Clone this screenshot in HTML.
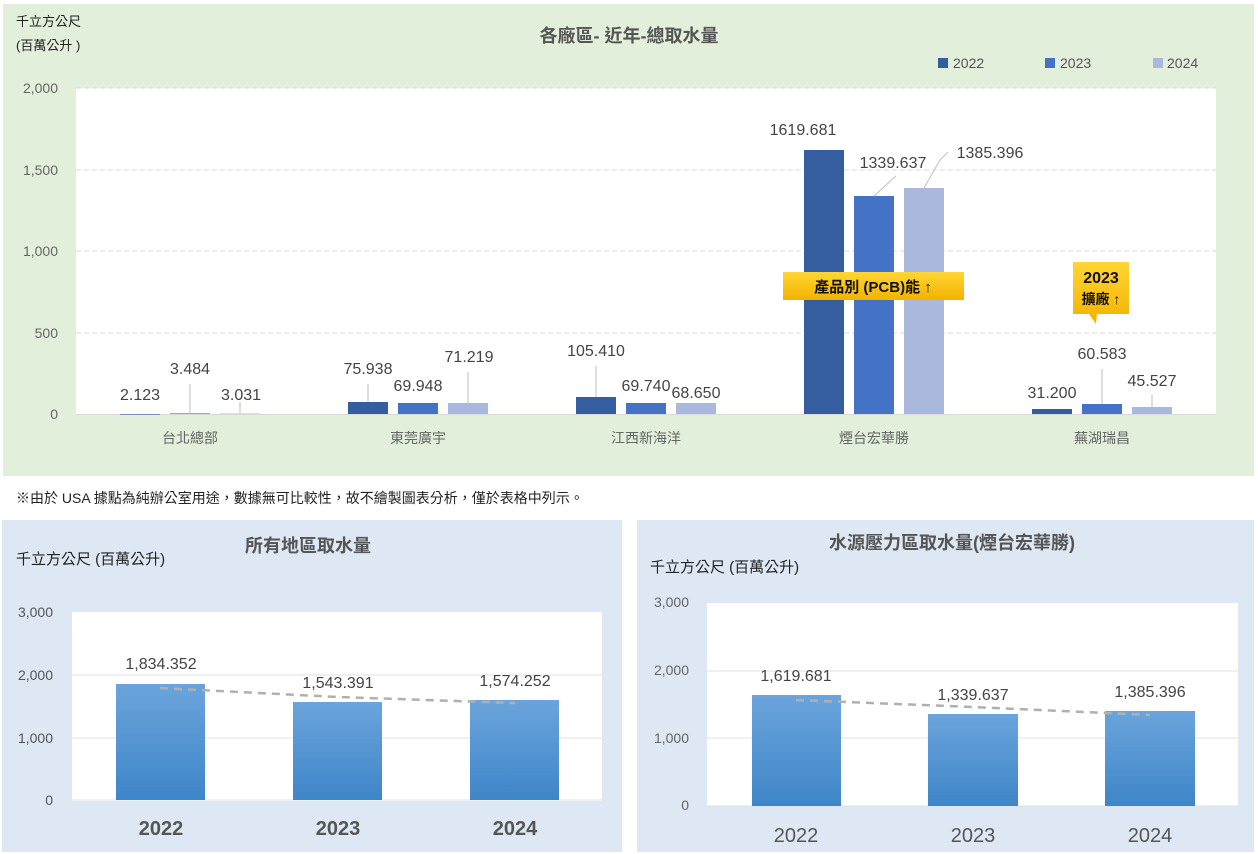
<!DOCTYPE html>
<html><head><meta charset="utf-8">
<style>
body{margin:0;width:1258px;height:854px;background:#fff;overflow:hidden;font-family:"Liberation Sans","Noto Sans CJK TC",sans-serif;}
svg{position:absolute;left:0;top:0}
</style></head><body>
<svg width="1258" height="854" viewBox="0 0 1258 854" font-family="Liberation Sans, Noto Sans CJK TC, sans-serif">
<defs>
<linearGradient id="g" x1="0" y1="0" x2="0" y2="1"><stop offset="0" stop-color="#6ba4dc"/><stop offset="1" stop-color="#3e86c8"/></linearGradient>
<linearGradient id="y" x1="0" y1="0" x2="0" y2="1"><stop offset="0" stop-color="#ffd633"/><stop offset="1" stop-color="#f2b200"/></linearGradient>
</defs>
<!-- top panel -->
<rect x="3" y="4" width="1251" height="472" fill="#e2efda"/>
<rect x="76" y="88" width="1140" height="326" fill="#fff"/>
<g stroke="#d9d9d9" stroke-dasharray="5,3">
<line x1="76" y1="88" x2="1216" y2="88"/><line x1="76" y1="170" x2="1216" y2="170"/><line x1="76" y1="251" x2="1216" y2="251"/><line x1="76" y1="333" x2="1216" y2="333"/>
</g>
<line x1="76" y1="414.5" x2="1216" y2="414.5" stroke="#d9d9d9"/>
<text x="16" y="26" font-size="13" fill="#222">千立方公尺</text>
<text x="16" y="50" font-size="13" fill="#222">(百萬公升 )</text>
<text x="629" y="42" font-size="18" fill="#555" text-anchor="middle" font-weight="bold">各廠區- 近年-總取水量</text>
<g font-size="14" fill="#555">
<rect x="938" y="58" width="10" height="10" fill="#355ea0"/><text x="953" y="68">2022</text>
<rect x="1045" y="58" width="10" height="10" fill="#4472c4"/><text x="1060" y="68">2023</text>
<rect x="1153" y="58" width="10" height="10" fill="#a9b8dc"/><text x="1167" y="68">2024</text>
</g>
<g font-size="14" fill="#666" text-anchor="end">
<text x="58" y="93">2,000</text><text x="58" y="175">1,500</text><text x="58" y="256">1,000</text><text x="58" y="338">500</text><text x="58" y="419">0</text>
</g>
<g>
<rect x="120" y="414" width="40" height="0.6" fill="#355ea0"/><rect x="170" y="413.4" width="40" height="0.6" fill="#4472c4"/><rect x="220" y="413.5" width="40" height="0.5" fill="#a9b8dc"/>
<rect x="348" y="402" width="40" height="12" fill="#355ea0"/><rect x="398" y="403" width="40" height="11" fill="#4472c4"/><rect x="448" y="403" width="40" height="11" fill="#a9b8dc"/>
<rect x="576" y="397" width="40" height="17" fill="#355ea0"/><rect x="626" y="403" width="40" height="11" fill="#4472c4"/><rect x="676" y="403" width="40" height="11" fill="#a9b8dc"/>
<rect x="804" y="150" width="40" height="264" fill="#355ea0"/><rect x="854" y="196" width="40" height="218" fill="#4472c4"/><rect x="904" y="188" width="40" height="226" fill="#a9b8dc"/>
<rect x="1032" y="409" width="40" height="5" fill="#355ea0"/><rect x="1082" y="404" width="40" height="10" fill="#4472c4"/><rect x="1132" y="407" width="40" height="7" fill="#a9b8dc"/>
</g>
<g stroke="#bfbfbf">
<line x1="190" y1="384" x2="190" y2="413"/><line x1="240" y1="402" x2="240" y2="413"/>
<line x1="368" y1="384" x2="368" y2="402"/><line x1="468" y1="372" x2="468" y2="403"/>
<line x1="596" y1="366" x2="596" y2="397"/>
<line x1="874" y1="196" x2="896" y2="176"/><line x1="924" y1="188" x2="940" y2="160"/><line x1="940" y1="160" x2="948" y2="152"/>
<line x1="1102" y1="369" x2="1102" y2="404"/><line x1="1152" y1="395" x2="1152" y2="407"/>
</g>
<g font-size="16" fill="#444" text-anchor="middle">
<text x="140" y="400">2.123</text><text x="190" y="374">3.484</text><text x="241" y="400">3.031</text>
<text x="368" y="374">75.938</text><text x="418" y="391">69.948</text><text x="469" y="362">71.219</text>
<text x="596" y="356">105.410</text><text x="646" y="391">69.740</text><text x="696" y="398">68.650</text>
<text x="803" y="135">1619.681</text><text x="893" y="168">1339.637</text><text x="990" y="158">1385.396</text>
<text x="1052" y="398">31.200</text><text x="1102" y="359">60.583</text><text x="1152" y="386">45.527</text>
</g>
<rect x="783" y="272" width="181" height="28" fill="url(#y)"/>
<text x="873" y="292" font-size="15" font-weight="bold" fill="#111" text-anchor="middle">產品別 (PCB)能 ↑</text>
<path d="M1073 262 H1129 V314 H1097 L1096 324 L1089 314 H1073 Z" fill="url(#y)"/>
<text x="1101" y="283" font-size="16" font-weight="bold" fill="#111" text-anchor="middle">2023</text>
<text x="1101" y="304" font-size="14" font-weight="bold" fill="#111" text-anchor="middle">擴廠 ↑</text>
<g font-size="14" fill="#666" text-anchor="middle">
<text x="190" y="443">台北總部</text><text x="418" y="443">東莞廣宇</text><text x="646" y="443">江西新海洋</text><text x="874" y="443">煙台宏華勝</text><text x="1102" y="443">蕪湖瑞昌</text>
</g>
<text x="16" y="503" font-size="14" fill="#222">※由於 USA 據點為純辦公室用途，數據無可比較性，故不繪製圖表分析，僅於表格中列示。</text>
<!-- bottom left -->
<rect x="2" y="520" width="620" height="332" fill="#dde8f4"/>
<rect x="72" y="612" width="530" height="189" fill="#fff"/>
<g stroke="#e0e0e0"><line x1="72" y1="675" x2="602" y2="675"/><line x1="72" y1="738" x2="602" y2="738"/><line x1="72" y1="800" x2="602" y2="800"/></g>
<text x="16" y="564" font-size="15" fill="#222">千立方公尺 (百萬公升)</text>
<text x="308" y="552" font-size="18" fill="#555" text-anchor="middle" font-weight="bold">所有地區取水量</text>
<g font-size="14" fill="#555" text-anchor="end"><text x="53" y="617">3,000</text><text x="53" y="680">2,000</text><text x="53" y="743">1,000</text><text x="53" y="805">0</text></g>
<rect x="116" y="684" width="89" height="116" fill="url(#g)"/>
<rect x="293" y="702" width="89" height="98" fill="url(#g)"/>
<rect x="470" y="700" width="89" height="100" fill="url(#g)"/>
<polyline points="160,688 338,697 515,703" fill="none" stroke="#b0b0b0" stroke-width="2.5" stroke-dasharray="8,6"/>
<g font-size="16" fill="#444" text-anchor="middle"><text x="161" y="669">1,834.352</text><text x="338" y="688">1,543.391</text><text x="515" y="686">1,574.252</text></g>
<g font-size="20" fill="#555" text-anchor="middle" font-weight="bold"><text x="161" y="835">2022</text><text x="338" y="835">2023</text><text x="515" y="835">2024</text></g>
<!-- bottom right -->
<rect x="637" y="520" width="617" height="332" fill="#dde8f4"/>
<rect x="707" y="603" width="531" height="203" fill="#fff"/>
<g stroke="#e0e0e0"><line x1="707" y1="671" x2="1238" y2="671"/><line x1="707" y1="738" x2="1238" y2="738"/><line x1="707" y1="806" x2="1238" y2="806"/></g>
<text x="952" y="549" font-size="18" fill="#555" text-anchor="middle" font-weight="bold">水源壓力區取水量(煙台宏華勝)</text>
<text x="650" y="572" font-size="15" fill="#222">千立方公尺 (百萬公升)</text>
<g font-size="14" fill="#666" text-anchor="end"><text x="689" y="607">3,000</text><text x="689" y="675">2,000</text><text x="689" y="743">1,000</text><text x="689" y="810">0</text></g>
<rect x="752" y="695" width="89" height="111" fill="url(#g)"/>
<rect x="928" y="714" width="90" height="92" fill="url(#g)"/>
<rect x="1105" y="711" width="90" height="95" fill="url(#g)"/>
<polyline points="796,700 973,707 1150,715" fill="none" stroke="#b0b0b0" stroke-width="2.5" stroke-dasharray="8,6"/>
<g font-size="16" fill="#444" text-anchor="middle"><text x="796" y="681">1,619.681</text><text x="973" y="700">1,339.637</text><text x="1150" y="697">1,385.396</text></g>
<g font-size="20" fill="#555" text-anchor="middle"><text x="796" y="842">2022</text><text x="973" y="842">2023</text><text x="1150" y="842">2024</text></g>
</svg>
</body></html>
